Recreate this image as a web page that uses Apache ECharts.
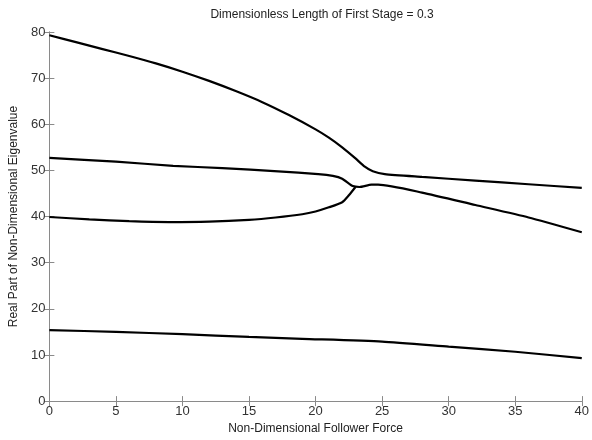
<!DOCTYPE html>
<html><head><meta charset="utf-8">
<script src="https://cdn.jsdelivr.net/npm/echarts@6/dist/echarts.min.js"></script>
<style>html,body{margin:0;padding:0;background:#fff}#c{width:592px;height:440px}</style>
</head><body><div id="c"></div>
<script>
const titleText = "Dimensionless Length of First Stage = 0.3";
const xName = "Non-Dimensional Follower Force";
const yName = "Real Part of Non-Dimensional Eigenvalue";
const curveA = [[0,79.3],[2,77.8],[4,76.3],[6,74.8],[8,73.2],[10,71.4],[12,69.4],[14,67.2],[16,64.8],[18,62.0],[20,58.9],[21,57.1],[22,55.0],[23,52.6],[23.7,50.8],[24.3,49.8],[25.2,49.2],[28,48.6],[32,47.8],[36,47.0],[40,46.2]];
const curveB = [[0,52.7],[5,51.9],[9.3,51.0],[13,50.5],[17.2,49.8],[20.2,49.2],[21.3,48.8],[22,48.2],[22.8,46.6],[23.3,46.4],[24.2,46.9],[24.7,46.9],[28,45.2],[32,42.5],[36,39.8],[40,36.6]];
const curveC = [[0,39.9],[3,39.4],[6,39.0],[9,38.8],[12,38.9],[15,39.3],[17,39.8],[19,40.5],[20,41.1],[21,42.0],[22,43.1],[22.5,44.6],[23,46.4]];
const curveD = [[0,15.4],[5,15.0],[10,14.5],[15,13.9],[19,13.5],[25,12.9],[30,11.8],[35,10.7],[40,9.3]];

const axisGray = '#8a8a8a';
const labelColor = '#333';
const font = 'Liberation Sans, Arial, sans-serif';
const chart = echarts.init(document.getElementById('c'));
function mkLine(d){return {type:'line',data:d,showSymbol:false,smooth:0.2,lineStyle:{color:'#000',width:2.2},xAxisIndex:0,yAxisIndex:0,animation:false};}
const baseAxis = {min:0,axisLine:{show:true,lineStyle:{color:axisGray,width:1}},axisTick:{show:true,inside:true,length:5,lineStyle:{color:axisGray}},splitLine:{show:false}};
chart.setOption({
  animation:false,
  title:{text:titleText,left:317,top:4,textAlign:'center',textStyle:{fontFamily:font,fontSize:12,fontWeight:'normal',color:'#222'}},
  grid:{left:49,right:7,top:32,bottom:37},
  xAxis:[
    Object.assign({},baseAxis,{type:'value',position:'bottom',max:40,interval:5,name:xName,nameLocation:'middle',nameGap:19,nameTextStyle:{fontFamily:font,fontSize:12,color:'#222'},axisLabel:{fontFamily:font,fontSize:13,color:labelColor,margin:4}}),
    Object.assign({},baseAxis,{type:'value',position:'top',max:40,interval:5,axisLabel:{show:false}})
  ],
  yAxis:[
    Object.assign({},baseAxis,{type:'value',position:'left',max:80,interval:10,name:yName,nameLocation:'middle',nameGap:26,nameTextStyle:{fontFamily:font,fontSize:12,color:'#222'},axisLabel:{fontFamily:font,fontSize:13,color:labelColor,margin:4}}),
    Object.assign({},baseAxis,{type:'value',position:'right',max:80,interval:10,axisLabel:{show:false}})
  ],
  series:[mkLine(curveA),mkLine(curveB),mkLine(curveC),mkLine(curveD)]
});
</script></body></html>
